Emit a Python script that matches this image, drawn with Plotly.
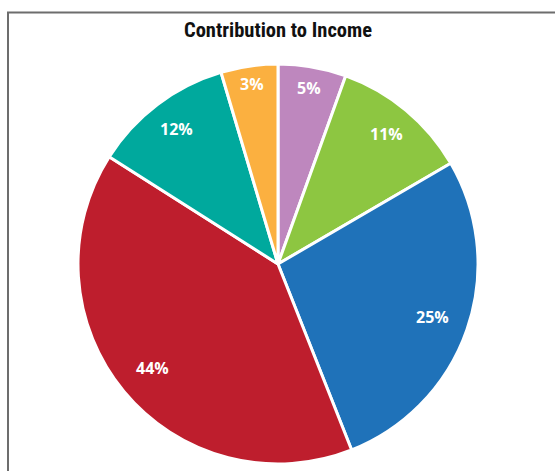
import math
import plotly.graph_objects as go

categories = ["A", "B", "C", "D", "E", "F"]
values = [5.5, 11.1, 27.4, 40.0, 11.4, 4.6]
labels = ["5%", "11%", "25%", "44%", "12%", "3%"]
colors = ["#BE87BE", "#8DC641", "#1F72B9", "#BE1E2D", "#00A99D", "#FBB040"]

W, H = 555, 471
ML, MR, MT, MB = 78, 77, 64, 7

fig = go.Figure(go.Pie(
    labels=categories,
    values=values,
    sort=False,
    direction="clockwise",
    rotation=0,
    marker=dict(colors=colors, line=dict(color="white", width=3)),
    textinfo="none",
    hoverinfo="skip",
    showlegend=False,
))

# label positions derived from the data (slice mid-angles; thin slices pushed outward)
total = sum(values)
cum = 0.0
ann = []
for v, t in zip(values, labels):
    mid = (cum + v / 2) / total * 2 * math.pi
    cum += v
    rfrac = 0.80 + 0.5 / v
    x = 0.5 + 0.5 * rfrac * math.sin(mid)
    y = 0.5 + 0.5 * rfrac * math.cos(mid)
    ann.append(dict(x=x, y=y, xref="paper", yref="paper", text=t, showarrow=False,
                    font=dict(family="Open Sans, Lato, sans-serif", size=16, color="white",
                              weight="bold"),
                    xanchor="center", yanchor="middle"))

pw = W - ML - MR
ph = H - MT - MB
fig.add_shape(type="rect", xref="paper", yref="paper",
              x0=(8 - ML) / pw, x1=(570 - ML) / pw,
              y0=(H - MB - 490) / ph, y1=(H - MB - 12.5) / ph,
              line=dict(color="#6d6d6d", width=2), fillcolor="rgba(0,0,0,0)", layer="below")

fig.update_layout(
    width=W, height=H,
    margin=dict(l=ML, r=MR, t=MT, b=MB),
    paper_bgcolor="white", plot_bgcolor="white",
    title=dict(text="<b>Contribution to Income</b>", x=278 / W, xanchor="center",
               y=1 - 30 / H, yanchor="middle", yref="container",
               font=dict(family="Liberation Sans Narrow, Arial Narrow, Roboto Condensed, Liberation Sans", size=20.5, color="#111111")),
    annotations=ann,
)

fig.write_html("out.html")
